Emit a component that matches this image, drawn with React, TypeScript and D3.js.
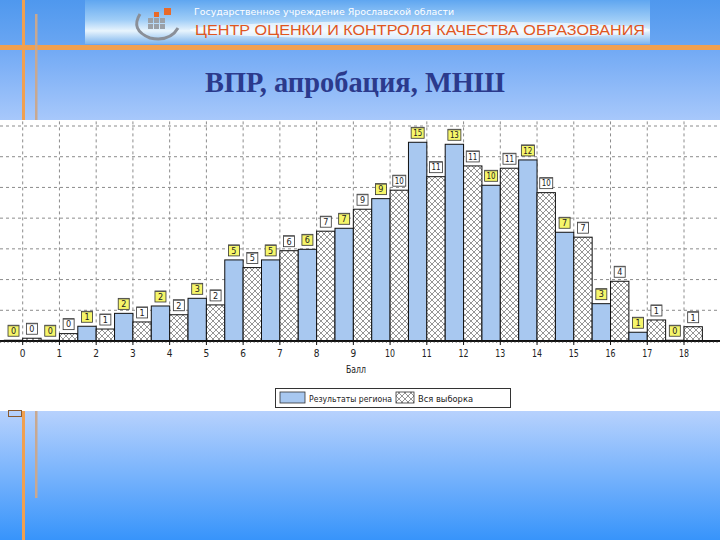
import React from "react";
import * as d3 from "d3";

const scores = [0, 1, 2, 3, 4, 5, 6, 7, 8, 9, 10, 11, 12, 13, 14, 15, 16, 17, 18];
const regionValues = [0.05, 0.05, 0.96, 1.8, 2.28, 2.78, 5.28, 5.28, 5.97, 7.34, 9.27, 12.94, 12.81, 10.14, 11.79, 7.08, 2.43, 0.57, 0.05];
const allValues = [0.18, 0.48, 0.78, 1.24, 1.71, 2.35, 4.78, 5.88, 7.15, 8.58, 9.82, 10.7, 11.4, 11.25, 9.66, 6.76, 3.89, 1.37, 0.93];
const regionLabels = ["0", "0", "1", "2", "2", "3", "5", "5", "6", "7", "9", "15", "13", "10", "12", "7", "3", "1", "0"];
const allLabels = ["0", "0", "1", "1", "2", "2", "5", "6", "7", "9", "10", "11", "11", "11", "10", "7", "4", "1", "1"];
const gridValues = [2, 4, 6, 8, 10, 12, 14];
const seriesNames = ["Результаты региона", "Вся выборка"];
const xTitle = "Балл";
const slideTitle = "ВПР, апробация, МНШ";
const headerSmall = "Государственное учреждение Ярославской области";
const headerBig = "ЦЕНТР ОЦЕНКИ И КОНТРОЛЯ КАЧЕСТВА ОБРАЗОВАНИЯ";

const narrow = "'Liberation Sans Narrow', 'Arial Narrow', 'DejaVu Sans Condensed', sans-serif";

export default function App() {
  const x = d3.scaleLinear().domain([0, 18]).range([22.7, 684]);
  const y = d3.scaleLinear().domain([0, 14]).range([341, 126]);
  const half = x(0.5) - x(0);
  const minor = d3.range(-0.6, 19.05, 0.1);

  const labelBox = (cx: number, top: number, text: string, fill: string, key: string) => {
    const w = text.length > 1 ? 13 : 11;
    const h = 11;
    const by = top - 4 - h;
    return (
      <g key={key}>
        <rect x={cx - w / 2} y={by} width={w} height={h} fill={fill} stroke="#333" strokeWidth={0.8} />
        <line x1={cx - w / 2} x2={cx + w / 2} y1={by + 0.5} y2={by + 0.5} stroke="#555" strokeWidth={1} />
        <text x={cx} y={by + 8.8} textAnchor="middle" fontSize={9} fontFamily={narrow} fill="#222" textLength={text.length > 1 ? 9 : undefined} lengthAdjust="spacingAndGlyphs">{text}</text>
      </g>
    );
  };

  return (
    <svg width={720} height={540} style={{ position: "absolute", left: 0, top: 0 }} xmlns="http://www.w3.org/2000/svg">
      <defs>
        <linearGradient id="bgTop" x1="0" y1="0" x2="0" y2="1">
          <stop offset="0" stopColor="#4f98ee" />
          <stop offset="1" stopColor="#6aa6f2" />
        </linearGradient>
        <linearGradient id="bgTitle" x1="0" y1="0" x2="0" y2="1">
          <stop offset="0" stopColor="#6fa8f4" />
          <stop offset="1" stopColor="#a9c9fb" />
        </linearGradient>
        <linearGradient id="bgBottom" x1="0" y1="0" x2="0" y2="1">
          <stop offset="0" stopColor="#b8d2fd" />
          <stop offset="1" stopColor="#3794fb" />
        </linearGradient>
        <linearGradient id="banner" x1="0" y1="0" x2="0" y2="1">
          <stop offset="0" stopColor="#5fa6f0" />
          <stop offset="0.45" stopColor="#9fcdf7" />
          <stop offset="0.7" stopColor="#e8f4fd" />
          <stop offset="1" stopColor="#7fb6ee" />
        </linearGradient>
        <pattern id="hatch" width={6} height={6} patternUnits="userSpaceOnUse">
          <rect width={6} height={6} fill="#ffffff" />
          <path d="M0,0 L6,6 M6,0 L0,6" stroke="#7a7a7a" strokeWidth={0.8} />
        </pattern>
      </defs>

      {/* slide background */}
      <rect x={0} y={0} width={720} height={46} fill="url(#bgTop)" />
      <rect x={0} y={46} width={720} height={76} fill="url(#bgTitle)" />
      <rect x={0} y={410} width={720} height={130} fill="url(#bgBottom)" />

      {/* header banner */}
      <rect x={85} y={0} width={565} height={44} fill="url(#banner)" />
      <ellipse cx={420} cy={30} rx={230} ry={9} fill="#ffffff" opacity={0.6} />
      <g>
        <rect x={148} y={18} width={5} height={5} fill="#9aa0a8" />
        <rect x={154} y={18} width={5} height={5} fill="#9aa0a8" />
        <rect x={160} y={18} width={5} height={5} fill="#9aa0a8" />
        <rect x={148} y={24} width={5} height={5} fill="#9aa0a8" />
        <rect x={154} y={24} width={5} height={5} fill="#9aa0a8" />
        <rect x={160} y={24} width={5} height={5} fill="#9aa0a8" />
        <rect x={154} y={12} width={5} height={5} fill="#e86a2a" />
        <rect x={164} y={8} width={7} height={7} fill="#e86a2a" />
        <path d="M140,14 Q130,30 150,38 Q170,42 178,28" fill="none" stroke="#8a8f98" strokeWidth={3} />
      </g>
      <text x={194} y={15} fontSize={9} fontFamily="'DejaVu Sans Condensed', sans-serif" fill="#ffffff" textLength={260} lengthAdjust="spacingAndGlyphs">{headerSmall}</text>
      <text x={195} y={35} fontSize={14.2} fontFamily="'Liberation Sans', Arial, sans-serif" fill="#e0561e" textLength={450} lengthAdjust="spacingAndGlyphs">{headerBig}</text>

      {/* orange decorations */}
      <rect x={0} y={45} width={720} height={5} fill="#f0a050" />
      <rect x={22} y={0} width={3} height={540} fill="#f0a050" />
      <rect x={35} y={14} width={2.5} height={484} fill="#c8a890" />

      {/* title */}
      <text x={355} y={92} textAnchor="middle" fontSize={29} fontWeight="bold" fontFamily="'Liberation Serif', 'Times New Roman', serif" fill="#2b3a8c" textLength={300} lengthAdjust="spacingAndGlyphs">{slideTitle}</text>

      {/* chart area */}
      <rect x={0} y={120} width={720} height={291} fill="#ffffff" />

      {/* grid */}
      {gridValues.map((v) => (
        <line key={"h" + v} x1={0} x2={720} y1={y(v)} y2={y(v)} stroke="#8c8c8c" strokeWidth={1} strokeDasharray="3,3" />
      ))}
      {scores.map((s) => (
        <line key={"v" + s} x1={x(s)} x2={x(s)} y1={y(14.3)} y2={y(0)} stroke="#8c8c8c" strokeWidth={1} strokeDasharray="3,3" />
      ))}

      {/* bars */}
      {scores.map((s, i) => (
        <g key={"b" + s}>
          <rect x={x(s) - half} y={y(regionValues[i])} width={half} height={y(0) - y(regionValues[i])} fill="#a8c8f0" stroke="#111" strokeWidth={1} />
          <rect x={x(s)} y={y(allValues[i])} width={half} height={y(0) - y(allValues[i])} fill="url(#hatch)" stroke="#111" strokeWidth={1} />
        </g>
      ))}

      {/* value labels */}
      {scores.map((s, i) => (
        <g key={"l" + s}>
          {labelBox(x(s) - half / 2, y(regionValues[i]), regionLabels[i], "#f6f66a", "r" + s)}
          {labelBox(x(s) + half / 2, y(allValues[i]), allLabels[i], "#ffffff", "a" + s)}
        </g>
      ))}

      {/* x axis */}
      <line x1={0} x2={720} y1={y(0)} y2={y(0)} stroke="#111" strokeWidth={2} />
      {minor.map((m, i) => (
        <line key={"m" + i} x1={x(m)} x2={x(m)} y1={y(0)} y2={y(0) + 2} stroke="#333" strokeWidth={0.6} />
      ))}
      {scores.map((s) => (
        <g key={"t" + s}>
          <line x1={x(s)} x2={x(s)} y1={y(0)} y2={y(0) + 4} stroke="#111" strokeWidth={1} />
          <text x={x(s)} y={y(0) + 16} textAnchor="middle" fontSize={10} fontFamily={narrow} fill="#222" textLength={s >= 10 ? 10 : undefined} lengthAdjust="spacingAndGlyphs">{s}</text>
        </g>
      ))}
      <text x={356} y={373} textAnchor="middle" fontSize={10} fontFamily={narrow} fill="#222" textLength={20} lengthAdjust="spacingAndGlyphs">{xTitle}</text>

      {/* legend */}
      <rect x={275.5} y={388.5} width={235} height={19} fill="#ffffff" stroke="#333" strokeWidth={1} />
      <rect x={280} y={392} width={25} height={11} fill="#a8c8f0" stroke="#333" strokeWidth={0.8} />
      <text x={309} y={401.5} fontSize={9.5} fontFamily={narrow} fill="#222" textLength={83} lengthAdjust="spacingAndGlyphs">{seriesNames[0]}</text>
      <rect x={396} y={392} width={18} height={11} fill="url(#hatch)" stroke="#333" strokeWidth={0.8} />
      <text x={418} y={401.5} fontSize={9.5} fontFamily={narrow} fill="#222" textLength={55} lengthAdjust="spacingAndGlyphs">{seriesNames[1]}</text>

      {/* small mark under chart */}
      <rect x={8.5} y={410.5} width={13} height={6} fill="none" stroke="#8a5a30" strokeWidth={1} />
    </svg>
  );
}
